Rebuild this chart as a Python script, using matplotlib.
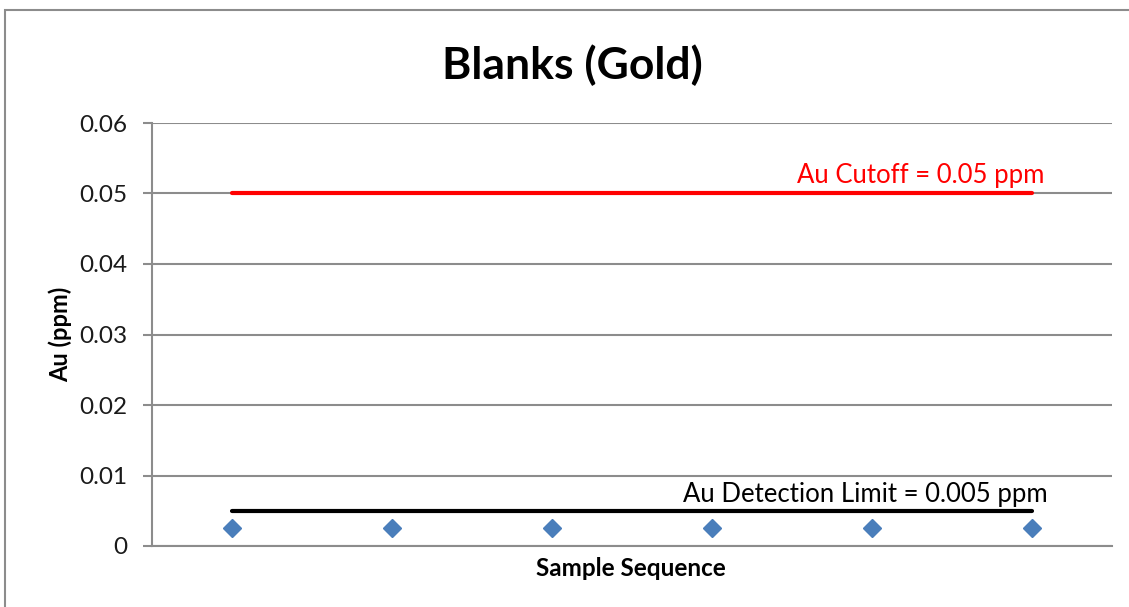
import matplotlib
matplotlib.use('Agg')
import matplotlib.pyplot as plt
from matplotlib.patches import Rectangle

plt.rcParams['font.family'] = ['Lato', 'DejaVu Sans']

# blank sample results (ppm) and reference limits
samples = [1, 2, 3, 4, 5, 6]
au_ppm = [0.0025, 0.0025, 0.0025, 0.0025, 0.0025, 0.0025]
cutoff = 0.05
detection_limit = 0.005
yticks = [0, 0.01, 0.02, 0.03, 0.04, 0.05, 0.06]
ytick_labels = ['0', '0.01', '0.02', '0.03', '0.04', '0.05', '0.06']

W, H = 1129, 607
fig = plt.figure(figsize=(W / 100, H / 100), dpi=100)
ax = fig.add_axes([152 / W, 1 - 546 / H, (1112 - 152) / W, (546 - 123) / H])

# outer chart frame (runs off the right and bottom edges)
fig.patches.append(Rectangle((5 / W, -0.1), 1.2, (H - 10) / H + 0.1,
                             transform=fig.transFigure, fill=False,
                             edgecolor='#8c8c8c', lw=1.5))

ax.plot([samples[0], samples[-1]], [cutoff, cutoff], color='#ff0000', lw=3, solid_capstyle='round', zorder=3)
ax.plot([samples[0], samples[-1]], [detection_limit, detection_limit], color='black', lw=3, solid_capstyle='round', zorder=3)
ax.plot(samples, au_ppm, linestyle='none', marker='D', markersize=9.5, color='#4a7ebb', zorder=4)

ax.text(samples[-1] + 0.075, cutoff + 0.0008, 'Au Cutoff = 0.05 ppm', color='#ff0000',
        fontsize=18.5, ha='right', va='bottom')
ax.text(samples[-1] + 0.1, detection_limit + 0.0006, 'Au Detection Limit = 0.005 ppm', color='black',
        fontsize=18.5, ha='right', va='bottom')

ax.set_xlim(0.5, 6.5)
ax.set_ylim(0, 0.06)
ax.set_yticks(yticks)
ax.set_yticklabels(ytick_labels)
ax.set_xticks([])
ax.yaxis.grid(True, color='#8c8c8c', lw=1.5)
ax.set_axisbelow(True)
for side in ['top', 'right']:
    ax.spines[side].set_visible(False)
ax.spines['left'].set_color('#8c8c8c')
ax.spines['left'].set_linewidth(1.5)
ax.spines['bottom'].set_color('#8c8c8c')
ax.spines['bottom'].set_linewidth(1.5)
ax.tick_params(axis='y', length=6.5, width=1.5, color='#8c8c8c', pad=11, labelsize=17.5, labelcolor='#1a1a1a')

fig.text(572 / W, 1 - 65 / H, 'Blanks (Gold)', fontsize=32, fontweight='bold', ha='center', va='center')
fig.text(60 / W, 1 - 334 / H, 'Au (ppm)', fontsize=17, fontweight='bold', rotation=90, ha='center', va='center')
fig.text(631 / W, 1 - 568 / H, 'Sample Sequence', fontsize=17.5, fontweight='bold', ha='center', va='center')

fig.savefig('out.png', dpi=100)
